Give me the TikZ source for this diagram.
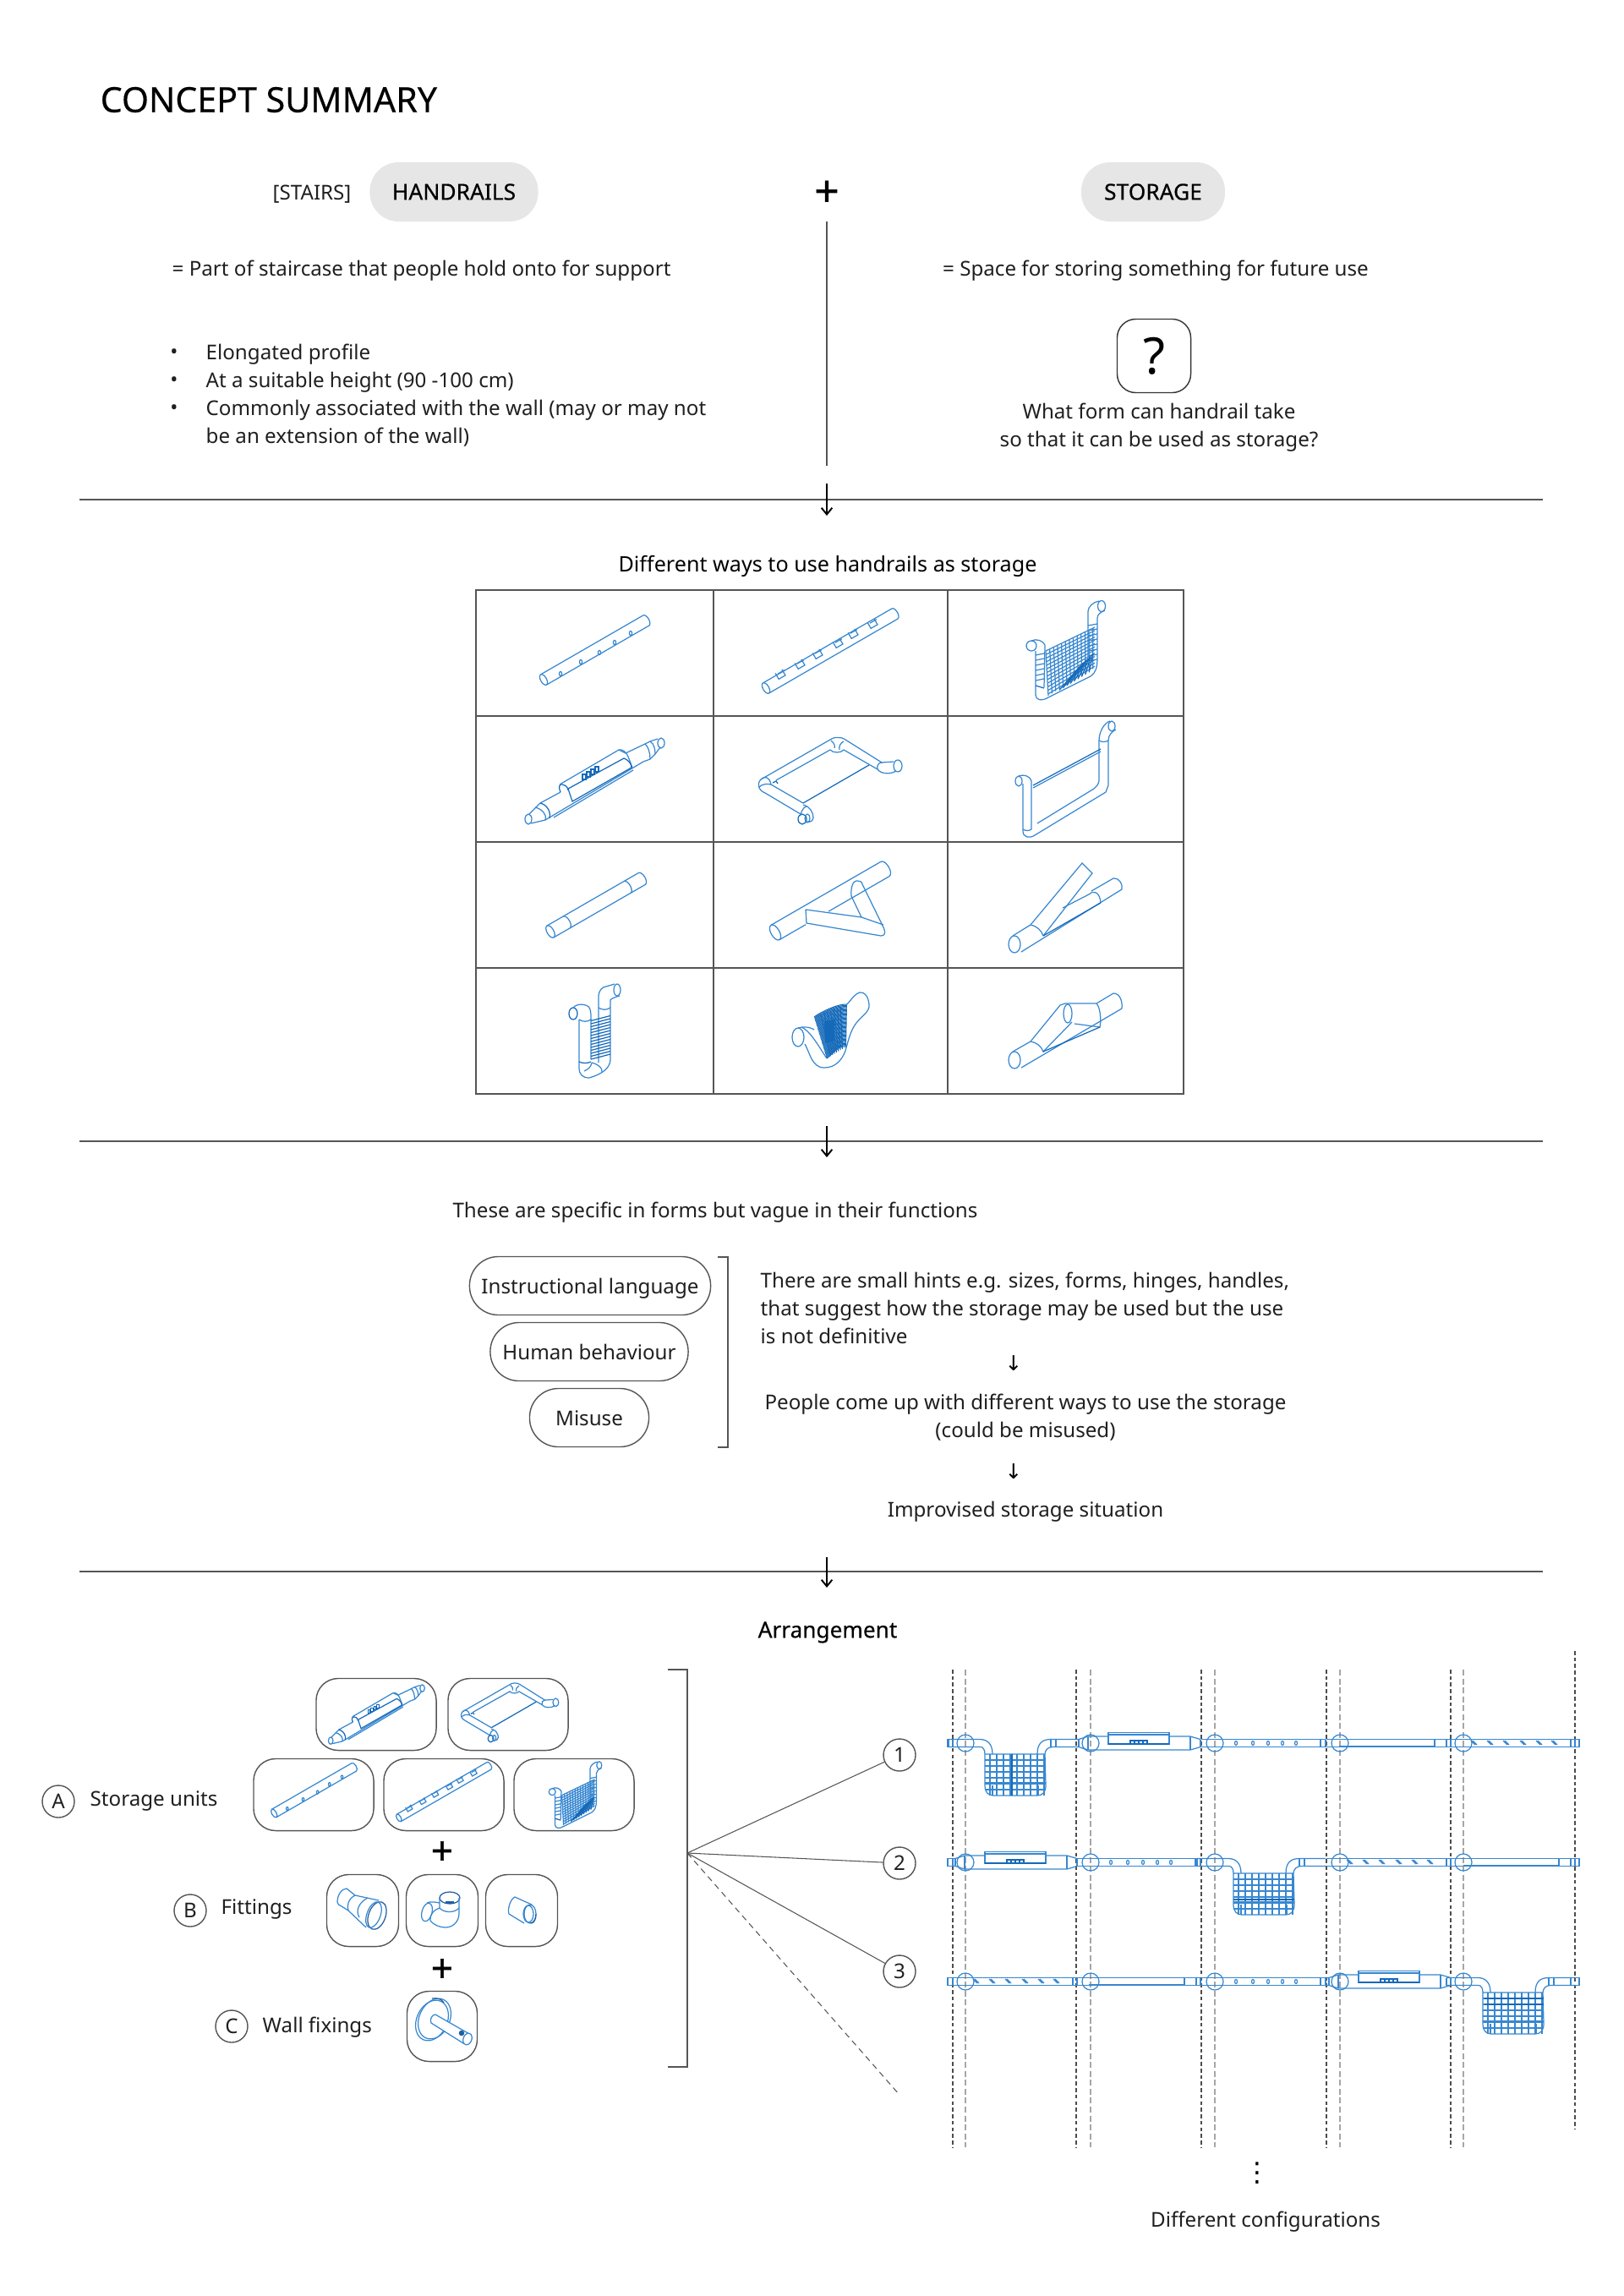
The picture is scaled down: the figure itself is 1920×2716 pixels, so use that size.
\documentclass[tikz,border=0pt]{standalone}
\usepackage{fontspec}
\setmainfont{Noto Sans}
\newfontfamily\medfont[FakeBold=0.35]{Noto Sans}
\newfontfamily\plusfont[FakeBold=1.2]{Noto Sans}
\newfontfamily\symfont{DejaVu Sans}
\usetikzlibrary{calc, arrows.meta}
\definecolor{pipeb}{RGB}{55,135,208}
\definecolor{pipedk}{RGB}{20,105,185}
\definecolor{pipenv}{RGB}{30,95,160}
\definecolor{pillgr}{RGB}{230,230,230}
\definecolor{ruleg}{RGB}{85,85,85}
\newcommand{\bodysize}{\fontsize{6.87}{9.4}\selectfont}
% x, y, angle, length, radius
\newcommand{\pipe}[5]{%
  \begin{scope}[shift={(#1,#2)},rotate=#3]
    \draw (0,0) ellipse ({#5*.5} and #5);
    \draw (0,#5) -- (#4,#5) arc (90:-90:{#5*.5} and #5) -- (0,-#5);
  \end{scope}}
\tikzset{
  every pic/.style={color=pipeb,line width=.35pt},
  bodyfont/.style={font=\bodysize, text=black!88, inner sep=0pt},
  bodytext/.style={bodyfont, yshift=-.03cm},
  pillbox/.style={bodyfont, text height=5.2pt, text depth=0pt, draw=ruleg, line width=.4pt, rounded corners=.34cm, minimum height=.69cm},
  greypill/.style={font=\fontsize{7.5}{9}\medfont, text=black, fill=pillgr, inner sep=0pt, rounded corners=.34cm, minimum height=.70cm},
  plussign/.style={font=\fontsize{13}{14}\plusfont, text=black, inner sep=0pt},
  unitbox/.style={draw=ruleg, line width=.4pt, rounded corners=.26cm, inner sep=0pt},
  tagdisc/.style={bodyfont, draw=ruleg, line width=.4pt, circle, minimum size=.38cm},
  sepline/.style={draw=ruleg, line width=.4pt},
  droparrow/.style={draw=black, line width=.55pt, -{Straight Barb[length=2.2pt,width=3.6pt]}},
  darkdash/.style={draw=black!70, line width=.35pt, dash pattern=on 1.3pt off .9pt},
  greydash/.style={draw=black!35, line width=.35pt, dash pattern=on 2pt off 1pt},
  % storage units, isometric
  unitholes/.pic={
    \pipe{-60}{-32}{30}{140}{7}
    \foreach \hx/\hy in {-40/-25,-16/-11,6/0,24/12,43/23}
      \draw (\hx,\hy) ellipse (1.6 and 2.6);
  },
  unitnotch/.pic={
    \pipe{-76}{-42}{30}{176}{7}
    \foreach \hx/\hy in {-57/-28,-34/-16,-13/-4,11/9,29/20,52/32}
      \draw[shift={(\hx,\hy)},rotate=30] (-5,7) -- (-5,-1) -- (4,-1) -- (4,7) (-3,5) -- (6,5);
  },
  unitnet/.pic={
    \draw (-40,8) ellipse (6 and 6);
    \draw (-40,14) .. controls (-34,17) and (-26,14) .. (-24,9) -- (-25,-41);
    \draw (-35,2) -- (-35,-50) .. controls (-35,-56) and (-28,-58) .. (-20,-53)
      -- (30,-28) .. controls (36,-24) and (38,-18) .. (38,-6) -- (38,41)
      .. controls (38,45) and (42,48) .. (47,50);
    \draw (27,-5) -- (27,49) .. controls (27,54) and (33,60) .. (40,61);
    \draw (43,55) ellipse (4.5 and 6.5);
    \draw[pipedk] (-35,-39) -- (-25,-42);
    \foreach \s in {-33,-27,...,0} \draw (-35,\s) -- (-25,\s+2);
    \foreach \s in {-10,-4,...,32} \draw (27,\s) -- (38,\s+2);
    \coordinate (nl) at (-23,2); \coordinate (nr) at (35,30);
    \coordinate (sr) at (35,-18); \coordinate (sl) at (-20,-51);
    \foreach \s in {0,.08,...,1.01} {
      \draw ($(nl)!\s!(nr)$) -- ($(sl)!\s!(sr)$);
      \draw ($(nl)!\s!(sl)$) -- ($(nr)!\s!(sr)$);
    }
    \foreach \s in {.2,.28,...,.85}
      \draw[pipedk] ($(nl)!.55!(sl)!\s!(nr)!.55!(sr)+(2,0)$) -- ($(sl)!\s!(sr)+(2,0)$);
  },
  unitclip/.pic={
    \draw (-78,-48) ellipse (4 and 6);
    \draw (-77,-42) -- (-71,-36) -- (-64,-29) -- (-40,-16);
    \draw (-75,-53) -- (-58,-49) -- (-53,-46) -- (58,20) -- (66,23) -- (72,29) -- (78,37);
    \draw (-48,-46) -- (46,10);
    \draw[pipedk] (-64,-29) .. controls (-56,-31) and (-51,-39) .. (-53,-47);
    \draw (-70,-34) .. controls (-62,-36) and (-56,-42) .. (-58,-49);
    \draw[pipedk] (-40,-16) .. controls (-43,-10) and (-41,-6) .. (-38,-7) .. controls (-33,-8) and (-31,-11) .. (-31,-14);
    \draw (-41,-7) -- (29,34) .. controls (34,35) and (38,31) .. (40,26) -- (45,13);
    \draw (29,34) -- (37,30) -- (60,41) -- (66,44) -- (75,47);
    \draw (79,42) ellipse (4 and 6);
    \draw (60,41) .. controls (64,38) and (66,30) .. (66,23) (66,44) .. controls (71,41) and (72,34) .. (72,29);
    \draw[pipedk] (-31,-12) -- (35,24) .. controls (40,22) and (44,18) .. (44,13) -- (-26,-27) -- (-31,-12);
    \foreach \s in {0,5,10,15} \draw[pipedk] (-14+\s,-1+\s*.6) rectangle ++(4,6);
  },
  unitframe/.pic={
    \draw (-82,-1) -- (0,46) .. controls (3,49) and (13,50) .. (18,46) -- (61,19)
      .. controls (57,19) and (55,15) .. (56,11) .. controls (60,5) and (72,5) .. (78,9);
    \draw (61,19) -- (75,20);
    \draw (80,15) ellipse (5 and 7);
    \draw (-64,-2) -- (0,34) .. controls (3,30) and (13,30) .. (16,34) -- (56,11);
    \draw (1,45) .. controls (5,42) and (6,38) .. (5,36) (16,44) .. controls (12,42) and (10,38) .. (11,34);
    \draw (-82,-1) .. controls (-78,3) and (-72,3) .. (-70,-7) -- (-32,-29);
    \draw (-82,-1) .. controls (-87,-6) and (-85,-14) .. (-77,-17) -- (-35,-42);
    \draw (-84,-10) .. controls (-80,-6) and (-74,-6) .. (-70,-7);
    \draw (-32,-31) .. controls (-24,-33) and (-20,-40) .. (-20,-46) .. controls (-20,-50) and (-24,-52) .. (-28,-51);
    \draw (-35,-42) .. controls (-33,-36) and (-30,-33) .. (-28,-33);
    \draw[pipedk] (-33,-48) ellipse (5 and 6);
    \draw (-27,-47) ellipse (3 and 5);
    \draw[pipedk] (-32,-29) -- (46,16) (-68,-5) -- (-64,-3) -- (-62,-6);
  },
  unitclipframe/.pic={
    \draw (-55,-3) ellipse (4 and 6);
    \draw (-55,3) .. controls (-50,5) and (-42,4) .. (-40,-3) -- (-40,-60);
    \draw (-50,-6) -- (-50,-62) .. controls (-50,-70) and (-42,-71) .. (-36,-67) -- (48,-16)
      -- (51,-8) -- (51,45) .. controls (51,52) and (56,56) .. (60,58);
    \draw (-33,-53) -- (34,-12) .. controls (38,-8) and (40,-6) .. (40,-3) -- (40,45)
      .. controls (40,55) and (46,66) .. (53,68);
    \draw (55,62) ellipse (4 and 6);
    \draw[pipedk] (-38,-8) -- (42,35);
    \draw (-38,-11) -- (42,32);
    \draw (-50,-60) .. controls (-47,-62) and (-43,-62) .. (-40,-60) (40,45) .. controls (43,43) and (48,43) .. (51,45);
  },
  unitbar/.pic={
    \pipe{-52}{-32}{30}{125}{8}
    \draw[shift={(-52,-32)},rotate=30] (22,8) arc (90:-90:4 and 8) (105,8) arc (90:-90:4 and 8);
  },
  unitfork/.pic={
    \begin{scope}[shift={(-65,-33)},rotate=30]
      \draw (0,0) ellipse (5 and 10);
      \draw (0,10) -- (150,10) arc (90:-90:5 and 10) -- (67,-10) (0,-10) -- (36,-10);
    \end{scope}
    \draw (-29,-6) -- (37,-15) -- (63,-24) (-29,-6) -- (-28,-22) -- (60,-37);
    \draw (25,10) -- (37,-15);
    \draw (25,10) .. controls (24,20) and (27,28) .. (31,28) .. controls (35,28) and (38,27) .. (38,24)
      -- (63,-27) .. controls (66,-33) and (65,-37) .. (60,-37);
  },
  unitarm/.pic={
    \draw (-60,-47) ellipse (7 and 10);
    \draw (-62,-37) -- (-41,-24) -- (20,49) -- (32,37) -- (-26,-37);
    \draw (-41,-24) .. controls (-35,-25) and (-28,-30) .. (-26,-37);
    \draw (-52,-56) -- (67,18) .. controls (68,24) and (65,31) .. (57,31) -- (31,16);
    \draw (-3,-4) -- (28,12) .. controls (32,17) and (41,16) .. (42,2);
    \draw[pipedk] (-26,-37) -- (42,2);
  },
  unitarmb/.pic={
    \draw (-60,-35) ellipse (7 and 10);
    \draw (-62,-25) -- (-41,-13) -- (-6,30) -- (0,32) -- (37,32) -- (57,44);
    \draw (-41,-13) .. controls (-35,-14) and (-28,-18) .. (-26,-25) -- (8,10);
    \draw (-52,-44) -- (67,26) .. controls (68,34) and (65,44) .. (57,44);
    \draw (3,20) ellipse (5 and 11);
    \draw (11,8) -- (41,4) .. controls (43,14) and (41,28) .. (37,32);
    \draw[pipedk] (-26,-25) -- (41,4);
  },
  unitcoil/.pic={
    \draw[pipedk] (-25,20) ellipse (5 and 7);
    \draw (-25,27) .. controls (-20,33) and (-8,31) .. (-6,27) .. controls (-4,24) and (-4,20) .. (-4,13);
    \draw (-18,13) .. controls (-14,10) and (-8,10) .. (-4,13) -- (-4,-34);
    \draw (-18,13) -- (-18,-44) .. controls (-18,-52) and (-14,-56) .. (-6,-56)
      .. controls (8,-52) and (19,-45) .. (19,-34) -- (19,36) .. controls (20,38) and (26,40) .. (30,41);
    \draw (5,-38) -- (5,41) .. controls (5,46) and (9,52) .. (14,52) -- (24,55);
    \draw (5,27) .. controls (9,24) and (15,24) .. (19,27);
    \draw (27,48) ellipse (4 and 7);
    \draw (-3,-38) .. controls (3,-40) and (9,-42) .. (9,-49) (-12,-48) .. controls (-8,-46) and (-4,-44) .. (-3,-38);
    \draw[pipedk] (-18,-37) .. controls (-14,-39) and (-8,-39) .. (-4,-37);
    \foreach \s in {-34,-30.5,...,14}
      \draw[pipedk] (-4,\s) -- (19,\s+6);
  },
  unitsling/.pic={
    \draw (-38,-8) ellipse (7 and 11);
    \draw (-38,3) .. controls (-30,5) and (-24,4) .. (-19,1);
    \draw (-30,-16) .. controls (-24,-26) and (-22,-44) .. (-7,-44)
      .. controls (6,-44) and (14,-35) .. (18,-24) .. controls (22,-10) and (24,0) .. (31,9)
      .. controls (38,18) and (47,22) .. (46,31) .. controls (45,40) and (41,46) .. (35,45)
      .. controls (30,44) and (26,38) .. (20,31);
    \draw (-34,4) .. controls (-24,0) and (-14,-18) .. (-4,-33);
    \coordinate (nl) at (-19,16); \coordinate (nr) at (20,31);
    \coordinate (sr) at (19,-19); \coordinate (sl) at (-4,-33);
    \foreach \s in {0,.025,...,1.01}
      \draw[pipedk,line width=.3pt] ($(nl)!\s!(sl)$) .. controls ($(nl)!\s!(sl)+(8,6)$) and ($(nr)!\s!(sr)+(-10,1)$) .. ($(nr)!\s!(sr)$);
    \foreach \s in {.2,.3,...,.85}
      \draw[pipedk,line width=.3pt] ($(nl)!\s!(nr)$) -- ($(sl)!\s!(sr)$);
    \fill[pipedk] (-7,11) -- (5,13) -- (5,-12) -- (-6,-15) -- cycle;
  },
  % fittings and wall fixing
  fitcone/.pic={
    \draw[pipenv] (17,-6) circle[x radius=10,y radius=17,rotate=-20];
    \draw (13,-5) circle[x radius=8,y radius=16,rotate=-20];
    \draw (-30,10) .. controls (-30,18) and (-25,26) .. (-19,26) -- (-9,18) -- (19,12);
    \draw (-30,10) .. controls (-30,8) and (-28,6) .. (-25,5) -- (-17,0) -- (4,-20);
    \draw (-9,18) .. controls (-17,14) and (-19,6) .. (-17,0);
    \draw (6,15) .. controls (-4,10) and (-9,0) .. (-4,-8);
  },
  fitelbow/.pic={
    \draw[pipenv] (9,15) ellipse (12 and 7);
    \draw[pipenv,line width=.9pt] (4,9.5) -- (14,9.5);
    \draw (20,15) -- (20,-3) .. controls (20,-14) and (12,-20) .. (4,-20) .. controls (-3,-20) and (-10,-17) .. (-14,-12);
    \draw (-3,15) -- (-3,3) .. controls (2,-3) and (15,-3) .. (20,3);
    \draw (-3,9) .. controls (-8,10) and (-14,11) .. (-18,9);
    \draw (-18,-2) circle[x radius=6,y radius=11,rotate=-15];
    \draw (-3,3) .. controls (-10,1) and (-15,-5) .. (-14,-12);
  },
  fitsleeve/.pic={
    \draw (10,-4) ellipse (7 and 11) (8,-4) ellipse (6 and 10);
    \draw (12,7) -- (-8,16) .. controls (-13,14) and (-17,2) .. (-15,-4) -- (3,-15);
    \draw[pipenv] (11,-15) .. controls (15,-15) and (17,-10) .. (17,-4);
  },
  fixplate/.pic={
    \draw (-9,9) circle[x radius=18,y radius=25,rotate=-25];
    \draw (-12,7) circle[x radius=18,y radius=25,rotate=-25];
    \draw[pipenv] (-12,33) .. controls (-6,34) and (0,32) .. (2,28);
    \draw[fill=white] (-8,14) -- (34,-10) -- (25,-20) -- (-13,4) .. controls (-15,8) and (-12,14) .. (-8,14);
    \draw[fill=white] (30,-15) circle[x radius=5,y radius=7,rotate=-20];
    \draw[pipenv] (23,-8) circle (2.6) (23,-8) circle (1.2);
  },
  % storage units, seen from the front
  sidetube/.pic={
    \draw (0,4.5) -- (147,4.5) (0,-4.5) -- (147,-4.5) (147,4.5) -- (147,-4.5);
  },
  sidenet/.pic={
    \draw (-5,4.5) -- (32,4.5) .. controls (40,4.5) and (47,0) .. (47,-13);
    \draw (-5,-4.5) -- (33,-4.5) .. controls (36,-4.5) and (38,-8) .. (38,-13);
    \draw (147,4.5) -- (116,4.5) .. controls (106,4.5) and (100,0) .. (100,-13);
    \draw (147,-4.5) -- (118,-4.5) .. controls (113,-4.5) and (109,-8) .. (109,-13);
    \draw (-5,4.5) -- (-5,-4.5) (116,4.5) -- (116,-4.5) (122,4.5) -- (122,-4.5);
    \draw (38,-13) -- (109,-13) (38,-13) -- (38,-50) .. controls (38,-58) and (42,-62) .. (48,-62)
      -- (100,-62) .. controls (106,-62) and (110,-58) .. (110,-50) -- (109,-13);
    \foreach \s in {44,52,...,108} \draw (\s,-13) -- (\s,-62);
    \foreach \s in {-20,-27,...,-61} \draw (38,\s) -- (110,\s);
    \draw (38,-47) -- (110,-47) (47,-50) -- (47,-62) (101,-50) -- (101,-62);
  },
  sideclip/.pic={
    \draw (0,4.5) -- (3,4.5) -- (14,8) -- (135,8) -- (147,4.5);
    \draw (0,-4.5) -- (3,-4.5) -- (14,-8) -- (135,-8) -- (147,-4.5);
    \draw (3,4.5) -- (3,-4.5) (14,8) -- (14,-8) (135,8) -- (135,-8) (147,4.5) -- (147,-4.5);
    \draw[fill=white] (38,12.5) rectangle (110,-1);
    \draw (38,10) -- (110,10);
    \draw[pipedk] (38,-1) -- (110,-1) (64,3) rectangle (84,-1);
    \draw[pipedk] (69,3) -- (69,-1) (74,3) -- (74,-1) (79,3) -- (79,-1);
  },
  sideholes/.pic={
    \pic {sidetube};
    \foreach \s in {41,61,79,96,112} \draw (\s,0) ellipse (1.5 and 2.5);
    \draw (141,4.5) -- (141,-4.5);
  },
  sideplain/.pic={
    \pic {sidetube};
    \draw (15,-3.5) -- (128,-3.5) (128,4.5) -- (128,-4.5) (142,4.5) -- (142,-4.5);
  },
  sidenotch/.pic={
    \pic {sidetube};
    \foreach \s in {27,46,65,85,104,122}
      \draw (\s-3,3) -- (\s+2,-2) (\s-1,3) -- (\s+4,-2);
    \draw (142,4.5) -- (142,-4.5);
  },
}
\begin{document}
\begin{tikzpicture}[x=0.01cm,y=0.01cm]
  \useasboundingbox (0,0) rectangle (1920,-2716);
  \node[font=\fontsize{11.7}{14}\medfont, text=black, inner sep=0pt, anchor=west] (title) at (118,-118) {CONCEPT SUMMARY};
  % handrails and storage
  \node[bodytext] (stairs) at (369,-227) {[STAIRS]};
  \node[greypill, minimum width=1.99cm] (handrails) at (537,-227) {HANDRAILS};
  \node[plussign, font=\fontsize{14.5}{16}\plusfont] (plus) at (978,-229) {+};
  \node[greypill, minimum width=1.70cm] (storage) at (1364,-227) {STORAGE};
  \coordinate (dividerend) at (978,-551);
  \coordinate (dividertop) at (978,-262);
  \draw[sepline] (dividertop) -- (dividerend);
  \node[bodytext, anchor=west] (railsmeans) at (203,-317) {= Part of staircase that people hold onto for support};
  \node[bodytext] (storemeans) at (1367,-317) {= Space for storing something for future use};
  \node[bodytext] (dota) at (206,-416) {•};
  \node[bodytext] (dotb) at (206,-449) {•};
  \node[bodytext] (dotc) at (206,-482) {•};
  \node[bodytext, anchor=north west, align=left] (railsnotes) at (243,-403)
    {Elongated profile\\At a suitable height (90 -100 cm)\\Commonly associated with the wall (may or may not\\be an extension of the wall)};
  \node[draw=black!80, line width=.4pt, rounded corners=.22cm, minimum size=.87cm, inner sep=0pt, font=\fontsize{17}{20}\selectfont] (query) at (1365,-421) {?};
  \node[bodytext, align=center, anchor=north] (asks) at (1371,-473)
    {What form can handrail take\\so that it can be used as storage?};
  % first rule
  \coordinate (rulealeft) at (94,-591); \coordinate (rulearight) at (1825,-591);
  \draw[sepline] (rulealeft) -- (rulearight);
  \coordinate (dropatop) at (978,-572); \coordinate (dropaend) at (978,-610);
  \draw[droparrow] (dropatop) -- (dropaend);
  % table of forms
  \node[font=\fontsize{7.15}{9}\selectfont, text=black, inner sep=0pt, yshift=-.03cm] (waystitle) at (979,-667) {Different ways to use handrails as storage};
  \draw[sepline] (563,-698) rectangle (1400,-1294);
  \foreach \y in {847,996,1145} \draw[sepline] (563,-\y) -- (1400,-\y);
  \foreach \x in {844,1121} \draw[sepline] (\x,-698) -- (\x,-1294);
  \pic at (703,-772) {unitholes};
  \pic at (982,-772) {unitnotch};
  \pic at (1260,-772) {unitnet};
  \pic at (703,-921) {unitclip};
  \pic at (982,-921) {unitframe};
  \pic at (1260,-921) {unitclipframe};
  \pic at (703,-1070) {unitbar};
  \pic at (982,-1070) {unitfork};
  \pic at (1260,-1070) {unitarm};
  \pic at (703,-1219) {unitcoil};
  \pic at (982,-1219) {unitsling};
  \pic at (1260,-1219) {unitarmb};
  % second rule
  \coordinate (ruleblieft) at (94,-1350); \coordinate (rulebright) at (1825,-1350);
  \draw[sepline] (ruleblieft) -- (rulebright);
  \coordinate (dropbtop) at (978,-1332); \coordinate (dropbend) at (978,-1369);
  \draw[droparrow] (dropbtop) -- (dropbend);
  % vague functions
  \node[bodytext] (vague) at (846,-1431) {These are specific in forms but vague in their functions};
  \node[pillbox, minimum width=2.85cm] (language) at (698,-1521) {Instructional language};
  \node[pillbox, minimum width=2.34cm] (behaviour) at (697,-1599) {Human behaviour};
  \node[pillbox, minimum width=1.41cm] (misuse) at (697,-1677) {Misuse};
  \draw[sepline] (849,-1487) -- (861,-1487) -- (861,-1712) -- (849,-1712);
  \node[bodytext, anchor=north west, align=left] (hints) at (899,-1501)
    {There are small hints e.g. sizes, forms, hinges, handles,\\that suggest how the storage may be used but the use\\is not definitive};
  \node[font=\fontsize{7}{9}\symfont, inner sep=0pt] (hintdrop) at (1199,-1613) {↓};
  \node[bodytext, align=center, anchor=north] (people) at (1213,-1645)
    {People come up with different ways to use the storage\\(could be misused)};
  \node[font=\fontsize{7}{9}\symfont, inner sep=0pt] (peopledrop) at (1199,-1741) {↓};
  \node[bodytext] (improvised) at (1213,-1785) {Improvised storage situation};
  % third rule
  \coordinate (rulecleft) at (94,-1859); \coordinate (rulecright) at (1825,-1859);
  \draw[sepline] (rulecleft) -- (rulecright);
  \coordinate (dropctop) at (978,-1842); \coordinate (dropcend) at (978,-1878);
  \draw[droparrow] (dropctop) -- (dropcend);
  % parts
  \node[font=\fontsize{7.45}{9}\medfont, text=black, inner sep=0pt, yshift=-.02cm] (arrangement) at (979,-1929) {Arrangement};
  \node[tagdisc] (taga) at (69,-2131) {A};
  \node[bodytext, anchor=west] (tagatext) at (106,-2127) {Storage units};
  \node[tagdisc] (tagb) at (225,-2260) {B};
  \node[bodytext, anchor=west] (tagbtext) at (261,-2255) {Fittings};
  \node[tagdisc] (tagc) at (274,-2397) {C};
  \node[bodytext, anchor=west] (tagctext) at (310,-2395) {Wall fixings};
  \node[unitbox, minimum width=1.42cm, minimum height=.85cm] (boxclip) at (445,-2028) {};
  \node[unitbox, minimum width=1.42cm, minimum height=.85cm] (boxframe) at (601,-2028) {};
  \node[unitbox, minimum width=1.42cm, minimum height=.85cm] (boxholes) at (371,-2123) {};
  \node[unitbox, minimum width=1.42cm, minimum height=.85cm] (boxnotch) at (525,-2123) {};
  \node[unitbox, minimum width=1.42cm, minimum height=.85cm] (boxnet) at (679,-2123) {};
  \node[unitbox, minimum width=.85cm, minimum height=.85cm] (boxcone) at (429,-2260) {};
  \node[unitbox, minimum width=.85cm, minimum height=.85cm] (boxelbow) at (523,-2260) {};
  \node[unitbox, minimum width=.85cm, minimum height=.85cm] (boxsleeve) at (617,-2260) {};
  \node[unitbox, minimum width=.83cm, minimum height=.83cm] (boxfix) at (523,-2397) {};
  \pic[scale=.69] at (445,-2026) {unitclip};
  \pic[scale=.68] at (603,-2024) {unitframe};
  \pic[scale=.78] at (371,-2120) {unitholes};
  \pic[scale=.70] at (525,-2121) {unitnotch};
  \pic[scale=.67] at (680,-2125) {unitnet};
  \pic at (429,-2260) {fitcone};
  \pic at (523,-2260) {fitelbow};
  \pic at (617,-2260) {fitsleeve};
  \pic at (523,-2397) {fixplate};
  \node[plussign] (plusb) at (523,-2192) {+};
  \node[plussign] (plusc) at (523,-2331) {+};
  \draw[sepline] (790,-1975) -- (813,-1975) -- (813,-2445) -- (790,-2445);
  % configurations
  \coordinate (hub) at (813,-2192);
  \node[tagdisc] (cfga) at (1064,-2076) {1};
  \node[tagdisc] (cfgb) at (1064,-2204) {2};
  \node[tagdisc] (cfgc) at (1064,-2332) {3};
  \coordinate (cfgmore) at (1064,-2478);
  \draw[sepline, line width=.3pt] (hub) -- (cfga);
  \draw[sepline, line width=.3pt] (hub) -- (cfgb);
  \draw[sepline, line width=.3pt] (hub) -- (cfgc);
  \draw[sepline, line width=.3pt, dash pattern=on 2pt off 1.5pt] (hub) -- (cfgmore);
  \foreach \x in {1127,1273,1421,1569,1716} \draw[darkdash] (\x,-1975) -- (\x,-2540);
  \draw[darkdash] (1863,-1953) -- (1863,-2518);
  \foreach \x in {1142,1290,1437,1585,1731} {
    \draw[greydash] (\x,-1975) -- (\x,-2540);
    \foreach \y in {2062,2203,2344} \draw[pipeb, line width=.35pt] (\x,-\y) circle (10);
  }
  % row 1
  \pic at (1127,-2062) {sidenet};
  \pic at (1273,-2062) {sideclip};
  \pic at (1421,-2062) {sideholes};
  \pic at (1569,-2062) {sideplain};
  \pic at (1716,-2062) {sidenotch};
  \draw[pipedk, line width=.5pt] (1197,-2075) -- (1197,-2124);
  % row 2
  \pic at (1127,-2203) {sideclip};
  \pic at (1273,-2203) {sideholes};
  \pic at (1421,-2203) {sidenet};
  \pic at (1569,-2203) {sidenotch};
  \pic at (1716,-2203) {sideplain};
  \draw[pipedk, line width=.5pt] (1459,-2247) -- (1531,-2247);
  % row 3
  \pic at (1127,-2344) {sidenotch};
  \pic at (1273,-2344) {sideplain};
  \pic at (1421,-2344) {sideholes};
  \pic at (1569,-2344) {sideclip};
  \pic at (1716,-2344) {sidenet};
  \draw[pipedk, line width=.5pt] (1756,-2364) -- (1826,-2364) (1756,-2371) -- (1826,-2371);
  \foreach \y in {2062,2203,2344} {
    \draw[pipeb, line width=.35pt] (1121,-\y+4.5) rectangle (1127,-\y-4.5);
    \draw[pipeb, line width=.35pt] (1858,-\y+4.5) rectangle (1868,-\y-4.5);
  }
  \node[font=\fontsize{9}{10}\symfont, inner sep=0pt] (moredots) at (1487,-2571) {⋮};
  \node[bodytext] (differ) at (1497,-2625) {Different configurations};
\end{tikzpicture}
\end{document}
